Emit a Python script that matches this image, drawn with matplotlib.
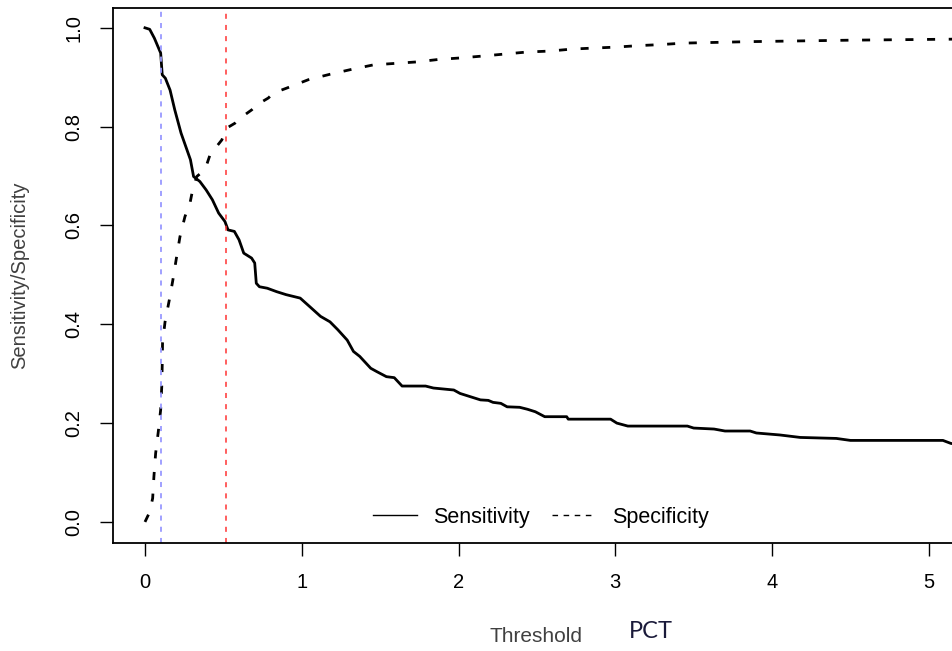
import matplotlib
matplotlib.use("Agg")
import matplotlib.pyplot as plt
from matplotlib.lines import Line2D

plt.rcParams['font.family'] = ['Liberation Sans', 'DejaVu Sans']

# values
sens_x = [0, 0.03, 0.06, 0.10, 0.11, 0.13, 0.16, 0.19, 0.23, 0.29, 0.31, 0.35, 0.39, 0.43,
          0.47, 0.51, 0.53, 0.57, 0.60, 0.63, 0.68, 0.70, 0.71, 0.73, 0.78, 0.84, 0.90, 0.99,
          1.05, 1.12, 1.18, 1.23, 1.29, 1.33, 1.37, 1.44, 1.48, 1.54, 1.59, 1.64, 1.71, 1.79,
          1.84, 1.97, 2.01, 2.07, 2.14, 2.19, 2.22, 2.27, 2.31, 2.39, 2.44, 2.49, 2.55, 2.69,
          2.70, 2.97, 3.01, 3.08, 3.46, 3.50, 3.63, 3.70, 3.86, 3.90, 4.05, 4.18, 4.41, 4.50,
          5.09, 5.14, 5.30]
sens_y = [1.0, 0.997, 0.979, 0.949, 0.905, 0.898, 0.874, 0.834, 0.787, 0.733, 0.699, 0.689,
          0.672, 0.652, 0.625, 0.608, 0.591, 0.588, 0.571, 0.544, 0.534, 0.524, 0.483, 0.476,
          0.473, 0.466, 0.46, 0.453, 0.436, 0.416, 0.405, 0.389, 0.368, 0.345, 0.335, 0.311,
          0.304, 0.294, 0.292, 0.275, 0.275, 0.275, 0.271, 0.267, 0.26, 0.254, 0.247, 0.246,
          0.242, 0.24, 0.233, 0.232, 0.228, 0.223, 0.213, 0.213, 0.208, 0.208, 0.2, 0.194,
          0.194, 0.19, 0.188, 0.184, 0.184, 0.18, 0.176, 0.171, 0.169, 0.165, 0.165, 0.159,
          0.15]

spec_x = [0, 0.03, 0.049, 0.057, 0.068, 0.085, 0.10, 0.107, 0.11, 0.112, 0.128, 0.155, 0.177,
          0.202, 0.223, 0.255, 0.287, 0.304, 0.33, 0.383, 0.415, 0.447, 0.49, 0.521, 0.574,
          0.606, 0.681, 0.713, 0.787, 0.819, 0.904, 1.042, 1.18, 1.319, 1.457, 1.595, 1.734,
          1.872, 2.01, 2.159, 2.297, 2.436, 2.585, 2.723, 2.861, 3.006, 3.148, 3.287, 3.431,
          3.569, 3.712, 3.85, 4.5, 5.14, 5.3]
spec_y = [0.0, 0.02, 0.048, 0.092, 0.139, 0.183, 0.227, 0.274, 0.318, 0.362, 0.405, 0.449,
          0.488, 0.537, 0.577, 0.618, 0.645, 0.672, 0.699, 0.713, 0.743, 0.756, 0.773, 0.797,
          0.807, 0.817, 0.834, 0.844, 0.858, 0.868, 0.878, 0.895, 0.906, 0.916, 0.925, 0.928,
          0.931, 0.936, 0.939, 0.943, 0.947, 0.951, 0.953, 0.957, 0.959, 0.961, 0.964, 0.966,
          0.969, 0.97, 0.971, 0.972, 0.975, 0.977, 0.978]

cut_blue = 0.102
cut_red = 0.517

x_ticks = [0, 1, 2, 3, 4, 5]
y_ticks = [0.0, 0.2, 0.4, 0.6, 0.8, 1.0]

fig = plt.figure(figsize=(9.52, 6.51), dpi=100)
ax = fig.add_axes([0.1187, 0.166, 0.907, 0.822])

ax.plot(sens_x, sens_y, color='black', lw=2.0)
ax.plot(spec_x, spec_y, color='black', lw=2.0, dashes=(2.9, 4.9))
ax.axvline(cut_blue, color='#9999ff', lw=1.3, dashes=(2.8, 3.4))
ax.axvline(cut_red, color='#ff3333', lw=1.1, dashes=(3.3, 4))

ax.set_xlim(-0.204, 5.304)
ax.set_ylim(-0.0425, 1.0405)
ax.set_xticks(x_ticks)
ax.set_xticklabels([str(v) for v in x_ticks])
ax.set_yticks(y_ticks)
ax.set_yticklabels(['%.1f' % v for v in y_ticks], rotation=90, va='center')
ax.tick_params(direction='out', length=9.4, width=1.0, pad=12, labelsize=14.5)
for s in ['left', 'top', 'bottom']:
    ax.spines[s].set_linewidth(1.3)
ax.spines['right'].set_visible(False)

handles = [Line2D([], [], color='black', lw=1.0),
           Line2D([], [], color='black', lw=1.0, dashes=(4, 4))]
ax.legend(handles, ['Sensitivity', 'Specificity'], ncol=2, frameon=False,
          loc='center', bbox_to_anchor=(541 / 952, 1 - 517 / 651),
          bbox_transform=fig.transFigure, fontsize=15.5, handlelength=2.0,
          handletextpad=0.79, columnspacing=1.0)

fig.text(536 / 952, 1 - 636 / 651, 'Threshold', ha='center', va='center',
         fontsize=15, color='#404040')
fig.text(651 / 952, 1 - 632 / 651, 'PCT', ha='center', va='center',
         fontsize=17, color='#1a1a3a', family=['Lato', 'DejaVu Sans'])
fig.text(20 / 952, 1 - 275 / 651, 'Sensitivity/Specificity', ha='center', va='center',
         rotation=90, fontsize=14.5, color='#404040')

fig.savefig('out.png', dpi=100)
